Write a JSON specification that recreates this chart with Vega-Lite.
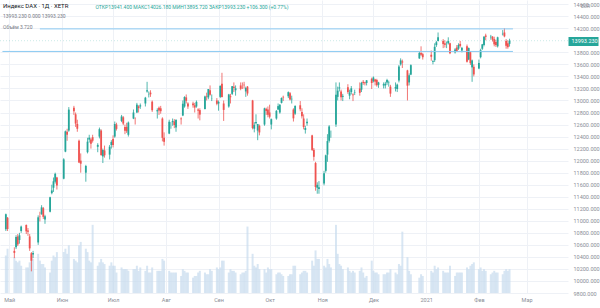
{
  "$schema": "https://vega.github.io/schema/vega-lite/v6.json",
  "width": 568,
  "height": 293,
  "autosize": {"type": "none"},
  "padding": {"left": 0, "top": 0, "right": 32, "bottom": 15},
  "background": "white",
  "config": {"view": {"stroke": null}, "font": "Roboto"},
  "title": {
    "text": "Индекс DAX · 1Д · XETR",
    "subtitle": ["13993.230    0.000    13993.230", "Объём 3.720"],
    "anchor": "start",
    "frame": "group",
    "orient": "top",
    "offset": -30,
    "dx": 3,
    "font": "Roboto",
    "fontSize": 6,
    "fontWeight": "normal",
    "color": "#131722",
    "subtitleFont": "Roboto",
    "subtitleFontSize": 5,
    "subtitleColor": "#787b86",
    "subtitlePadding": 5,
    "subtitleLineHeight": 11
  },
  "datasets": {
    "ohlc": [
      {"d":"2020-04-29","o":10860,"h":11120,"l":10830,"c":11107,"v":110},
      {"d":"2020-04-30","o":11050,"h":11063,"l":10830,"c":10862,"v":130},
      {"d":"2020-05-04","o":10500,"h":10560,"l":10380,"c":10467,"v":105},
      {"d":"2020-05-05","o":10560,"h":10760,"l":10530,"c":10730,"v":95},
      {"d":"2020-05-06","o":10740,"h":10780,"l":10580,"c":10607,"v":90},
      {"d":"2020-05-07","o":10680,"h":10800,"l":10620,"c":10759,"v":95},
      {"d":"2020-05-08","o":10830,"h":10920,"l":10800,"c":10904,"v":80},
      {"d":"2020-05-11","o":10930,"h":10940,"l":10780,"c":10825,"v":75},
      {"d":"2020-05-12","o":10840,"h":10880,"l":10750,"c":10820,"v":75},
      {"d":"2020-05-13","o":10740,"h":10780,"l":10500,"c":10542,"v":90},
      {"d":"2020-05-14","o":10460,"h":10480,"l":10160,"c":10337,"v":110},
      {"d":"2020-05-15","o":10440,"h":10500,"l":10380,"c":10465,"v":100},
      {"d":"2020-05-18","o":10640,"h":11090,"l":10600,"c":11058,"v":115},
      {"d":"2020-05-19","o":11080,"h":11150,"l":10990,"c":11075,"v":95},
      {"d":"2020-05-20","o":11110,"h":11260,"l":11100,"c":11223,"v":85},
      {"d":"2020-05-21","o":11210,"h":11230,"l":11030,"c":11066,"v":85},
      {"d":"2020-05-22","o":11020,"h":11100,"l":10950,"c":11074,"v":75},
      {"d":"2020-05-25","o":11150,"h":11400,"l":11140,"c":11391,"v":60},
      {"d":"2020-05-26","o":11460,"h":11600,"l":11440,"c":11504,"v":95},
      {"d":"2020-05-27","o":11550,"h":11720,"l":11480,"c":11657,"v":110},
      {"d":"2020-05-28","o":11650,"h":11800,"l":11620,"c":11781,"v":105},
      {"d":"2020-05-29","o":11720,"h":11730,"l":11520,"c":11587,"v":120},
      {"d":"2020-06-02","o":11700,"h":12040,"l":11690,"c":12021,"v":120},
      {"d":"2020-06-03","o":12150,"h":12500,"l":12140,"c":12487,"v":130},
      {"d":"2020-06-04","o":12480,"h":12530,"l":12330,"c":12431,"v":115},
      {"d":"2020-06-05","o":12500,"h":12890,"l":12480,"c":12848,"v":140},
      {"d":"2020-06-08","o":12880,"h":12910,"l":12760,"c":12820,"v":100},
      {"d":"2020-06-09","o":12770,"h":12800,"l":12560,"c":12617,"v":95},
      {"d":"2020-06-10","o":12610,"h":12680,"l":12480,"c":12530,"v":90},
      {"d":"2020-06-11","o":12330,"h":12350,"l":11960,"c":11970,"v":140},
      {"d":"2020-06-12","o":12000,"h":12120,"l":11800,"c":11949,"v":150},
      {"d":"2020-06-15","o":11800,"h":11930,"l":11650,"c":11911,"v":130},
      {"d":"2020-06-16","o":12140,"h":12380,"l":12120,"c":12315,"v":120},
      {"d":"2020-06-17","o":12350,"h":12430,"l":12300,"c":12382,"v":95},
      {"d":"2020-06-18","o":12350,"h":12380,"l":12200,"c":12281,"v":90},
      {"d":"2020-06-19","o":12390,"h":12430,"l":12300,"c":12331,"v":200},
      {"d":"2020-06-22","o":12230,"h":12290,"l":12140,"c":12262,"v":80},
      {"d":"2020-06-23","o":12400,"h":12550,"l":12370,"c":12523,"v":90},
      {"d":"2020-06-24","o":12500,"h":12520,"l":12080,"c":12093,"v":100},
      {"d":"2020-06-25","o":12070,"h":12200,"l":11960,"c":12177,"v":90},
      {"d":"2020-06-26","o":12170,"h":12250,"l":12050,"c":12089,"v":85},
      {"d":"2020-06-29","o":12100,"h":12260,"l":12020,"c":12232,"v":80},
      {"d":"2020-06-30","o":12260,"h":12340,"l":12200,"c":12311,"v":90},
      {"d":"2020-07-01","o":12360,"h":12420,"l":12220,"c":12260,"v":80},
      {"d":"2020-07-02","o":12400,"h":12650,"l":12380,"c":12608,"v":80},
      {"d":"2020-07-03","o":12600,"h":12630,"l":12500,"c":12528,"v":60},
      {"d":"2020-07-06","o":12660,"h":12760,"l":12640,"c":12734,"v":75},
      {"d":"2020-07-07","o":12720,"h":12740,"l":12590,"c":12616,"v":70},
      {"d":"2020-07-08","o":12560,"h":12600,"l":12440,"c":12495,"v":70},
      {"d":"2020-07-09","o":12560,"h":12630,"l":12460,"c":12489,"v":70},
      {"d":"2020-07-10","o":12430,"h":12650,"l":12400,"c":12633,"v":65},
      {"d":"2020-07-13","o":12700,"h":12850,"l":12690,"c":12800,"v":70},
      {"d":"2020-07-14","o":12700,"h":12720,"l":12600,"c":12697,"v":70},
      {"d":"2020-07-15","o":12800,"h":12960,"l":12790,"c":12931,"v":80},
      {"d":"2020-07-16","o":12900,"h":12920,"l":12800,"c":12874,"v":65},
      {"d":"2020-07-17","o":12900,"h":12950,"l":12860,"c":12920,"v":75},
      {"d":"2020-07-20","o":12950,"h":13060,"l":12900,"c":13046,"v":65},
      {"d":"2020-07-21","o":13150,"h":13310,"l":13130,"c":13171,"v":80},
      {"d":"2020-07-22","o":13100,"h":13150,"l":13050,"c":13104,"v":60},
      {"d":"2020-07-23","o":13130,"h":13170,"l":13060,"c":13103,"v":60},
      {"d":"2020-07-24","o":12980,"h":13000,"l":12810,"c":12838,"v":75},
      {"d":"2020-07-27","o":12820,"h":12870,"l":12700,"c":12839,"v":65},
      {"d":"2020-07-28","o":12880,"h":12900,"l":12760,"c":12835,"v":65},
      {"d":"2020-07-29","o":12870,"h":12910,"l":12780,"c":12822,"v":65},
      {"d":"2020-07-30","o":12700,"h":12720,"l":12320,"c":12379,"v":100},
      {"d":"2020-07-31","o":12380,"h":12470,"l":12250,"c":12313,"v":95},
      {"d":"2020-08-03","o":12450,"h":12680,"l":12440,"c":12647,"v":65},
      {"d":"2020-08-04","o":12600,"h":12640,"l":12530,"c":12600,"v":60},
      {"d":"2020-08-05","o":12640,"h":12700,"l":12580,"c":12660,"v":60},
      {"d":"2020-08-06","o":12650,"h":12690,"l":12540,"c":12592,"v":60},
      {"d":"2020-08-07","o":12550,"h":12690,"l":12480,"c":12674,"v":60},
      {"d":"2020-08-10","o":12700,"h":12720,"l":12600,"c":12688,"v":50},
      {"d":"2020-08-11","o":12750,"h":13000,"l":12740,"c":12946,"v":70},
      {"d":"2020-08-12","o":12900,"h":13070,"l":12880,"c":13058,"v":65},
      {"d":"2020-08-13","o":13050,"h":13100,"l":12950,"c":12994,"v":60},
      {"d":"2020-08-14","o":12950,"h":12970,"l":12860,"c":12901,"v":60},
      {"d":"2020-08-17","o":12950,"h":12980,"l":12880,"c":12920,"v":45},
      {"d":"2020-08-18","o":12920,"h":12960,"l":12800,"c":12882,"v":50},
      {"d":"2020-08-19","o":12900,"h":13000,"l":12880,"c":12977,"v":50},
      {"d":"2020-08-20","o":12850,"h":12870,"l":12700,"c":12830,"v":60},
      {"d":"2020-08-21","o":12840,"h":12870,"l":12670,"c":12765,"v":65},
      {"d":"2020-08-24","o":12860,"h":13080,"l":12850,"c":13067,"v":60},
      {"d":"2020-08-25","o":13070,"h":13130,"l":13000,"c":13062,"v":55},
      {"d":"2020-08-26","o":13050,"h":13190,"l":13020,"c":13190,"v":55},
      {"d":"2020-08-27","o":13170,"h":13250,"l":13080,"c":13096,"v":70},
      {"d":"2020-08-28","o":13030,"h":13100,"l":12990,"c":13033,"v":65},
      {"d":"2020-08-31","o":13000,"h":13040,"l":12920,"c":12945,"v":75},
      {"d":"2020-09-01","o":12950,"h":13000,"l":12830,"c":12974,"v":70},
      {"d":"2020-09-02","o":13060,"h":13250,"l":13040,"c":13243,"v":75},
      {"d":"2020-09-03","o":13280,"h":13460,"l":13050,"c":13057,"v":95},
      {"d":"2020-09-04","o":12950,"h":13000,"l":12660,"c":12843,"v":95},
      {"d":"2020-09-07","o":12900,"h":13110,"l":12880,"c":13100,"v":60},
      {"d":"2020-09-08","o":13070,"h":13110,"l":12950,"c":13054,"v":70},
      {"d":"2020-09-09","o":13110,"h":13240,"l":13090,"c":13237,"v":65},
      {"d":"2020-09-10","o":13230,"h":13300,"l":13140,"c":13209,"v":65},
      {"d":"2020-09-11","o":13170,"h":13250,"l":13080,"c":13202,"v":60},
      {"d":"2020-09-14","o":13250,"h":13300,"l":13170,"c":13193,"v":55},
      {"d":"2020-09-15","o":13220,"h":13300,"l":13190,"c":13218,"v":60},
      {"d":"2020-09-16","o":13260,"h":13310,"l":13200,"c":13255,"v":60},
      {"d":"2020-09-17","o":13150,"h":13230,"l":13060,"c":13208,"v":65},
      {"d":"2020-09-18","o":13230,"h":13240,"l":13080,"c":13116,"v":195},
      {"d":"2020-09-21","o":13000,"h":13010,"l":12520,"c":12542,"v":115},
      {"d":"2020-09-22","o":12530,"h":12640,"l":12470,"c":12594,"v":80},
      {"d":"2020-09-23","o":12620,"h":12770,"l":12600,"c":12642,"v":75},
      {"d":"2020-09-24","o":12500,"h":12610,"l":12340,"c":12607,"v":85},
      {"d":"2020-09-25","o":12580,"h":12600,"l":12420,"c":12469,"v":70},
      {"d":"2020-09-28","o":12600,"h":12880,"l":12580,"c":12870,"v":70},
      {"d":"2020-09-29","o":12860,"h":12880,"l":12760,"c":12826,"v":60},
      {"d":"2020-09-30","o":12850,"h":12900,"l":12720,"c":12761,"v":75},
      {"d":"2020-10-01","o":12800,"h":12930,"l":12700,"c":12730,"v":70},
      {"d":"2020-10-02","o":12600,"h":12700,"l":12520,"c":12689,"v":70},
      {"d":"2020-10-05","o":12700,"h":12840,"l":12680,"c":12828,"v":55},
      {"d":"2020-10-06","o":12850,"h":12950,"l":12840,"c":12906,"v":60},
      {"d":"2020-10-07","o":12800,"h":12940,"l":12780,"c":12928,"v":60},
      {"d":"2020-10-08","o":12960,"h":13050,"l":12950,"c":13042,"v":55},
      {"d":"2020-10-09","o":13060,"h":13080,"l":12990,"c":13051,"v":50},
      {"d":"2020-10-12","o":13070,"h":13150,"l":13040,"c":13138,"v":50},
      {"d":"2020-10-13","o":13120,"h":13140,"l":13000,"c":13018,"v":55},
      {"d":"2020-10-14","o":13020,"h":13080,"l":12950,"c":13028,"v":55},
      {"d":"2020-10-15","o":12850,"h":12870,"l":12650,"c":12703,"v":80},
      {"d":"2020-10-16","o":12780,"h":12920,"l":12760,"c":12909,"v":80},
      {"d":"2020-10-19","o":12920,"h":12990,"l":12820,"c":12854,"v":55},
      {"d":"2020-10-20","o":12810,"h":12870,"l":12700,"c":12736,"v":60},
      {"d":"2020-10-21","o":12700,"h":12770,"l":12520,"c":12558,"v":65},
      {"d":"2020-10-22","o":12510,"h":12580,"l":12450,"c":12543,"v":65},
      {"d":"2020-10-23","o":12620,"h":12700,"l":12580,"c":12646,"v":60},
      {"d":"2020-10-26","o":12420,"h":12430,"l":12160,"c":12178,"v":95},
      {"d":"2020-10-27","o":12180,"h":12210,"l":12000,"c":12064,"v":80},
      {"d":"2020-10-28","o":11960,"h":11980,"l":11500,"c":11561,"v":125},
      {"d":"2020-10-29","o":11550,"h":11640,"l":11450,"c":11598,"v":100},
      {"d":"2020-10-30","o":11530,"h":11660,"l":11450,"c":11556,"v":100},
      {"d":"2020-11-02","o":11620,"h":11830,"l":11590,"c":11789,"v":80},
      {"d":"2020-11-03","o":11830,"h":12100,"l":11800,"c":12089,"v":75},
      {"d":"2020-11-04","o":12100,"h":12440,"l":11980,"c":12325,"v":100},
      {"d":"2020-11-05","o":12330,"h":12590,"l":12300,"c":12568,"v":85},
      {"d":"2020-11-06","o":12480,"h":12500,"l":12380,"c":12480,"v":75},
      {"d":"2020-11-09","o":12600,"h":13300,"l":12560,"c":13096,"v":200},
      {"d":"2020-11-10","o":13060,"h":13230,"l":13000,"c":13163,"v":115},
      {"d":"2020-11-11","o":13200,"h":13300,"l":13150,"c":13217,"v":85},
      {"d":"2020-11-12","o":13150,"h":13180,"l":13000,"c":13052,"v":80},
      {"d":"2020-11-13","o":13060,"h":13110,"l":12990,"c":13077,"v":70},
      {"d":"2020-11-16","o":13220,"h":13270,"l":13110,"c":13139,"v":75},
      {"d":"2020-11-17","o":13080,"h":13180,"l":13020,"c":13133,"v":65},
      {"d":"2020-11-18","o":13140,"h":13240,"l":13100,"c":13202,"v":60},
      {"d":"2020-11-19","o":13100,"h":13120,"l":12990,"c":13086,"v":65},
      {"d":"2020-11-20","o":13130,"h":13180,"l":13090,"c":13137,"v":60},
      {"d":"2020-11-23","o":13200,"h":13300,"l":13080,"c":13127,"v":65},
      {"d":"2020-11-24","o":13180,"h":13310,"l":13140,"c":13292,"v":75},
      {"d":"2020-11-25","o":13310,"h":13340,"l":13260,"c":13290,"v":60},
      {"d":"2020-11-26","o":13300,"h":13310,"l":13250,"c":13286,"v":45},
      {"d":"2020-11-27","o":13290,"h":13340,"l":13250,"c":13335,"v":50},
      {"d":"2020-11-30","o":13360,"h":13380,"l":13190,"c":13291,"v":95},
      {"d":"2020-12-01","o":13320,"h":13400,"l":13300,"c":13382,"v":65},
      {"d":"2020-12-02","o":13350,"h":13360,"l":13250,"c":13313,"v":60},
      {"d":"2020-12-03","o":13340,"h":13360,"l":13230,"c":13253,"v":60},
      {"d":"2020-12-04","o":13260,"h":13310,"l":13210,"c":13299,"v":55},
      {"d":"2020-12-07","o":13250,"h":13300,"l":13200,"c":13271,"v":55},
      {"d":"2020-12-08","o":13250,"h":13310,"l":13200,"c":13278,"v":55},
      {"d":"2020-12-09","o":13300,"h":13360,"l":13260,"c":13340,"v":60},
      {"d":"2020-12-10","o":13290,"h":13330,"l":13230,"c":13296,"v":60},
      {"d":"2020-12-11","o":13230,"h":13260,"l":13060,"c":13114,"v":70},
      {"d":"2020-12-14","o":13200,"h":13300,"l":13150,"c":13223,"v":60},
      {"d":"2020-12-15","o":13190,"h":13280,"l":13140,"c":13263,"v":55},
      {"d":"2020-12-16","o":13330,"h":13590,"l":13300,"c":13566,"v":85},
      {"d":"2020-12-17","o":13600,"h":13700,"l":13580,"c":13667,"v":80},
      {"d":"2020-12-18","o":13650,"h":13680,"l":13540,"c":13630,"v":180},
      {"d":"2020-12-21","o":13500,"h":13510,"l":13000,"c":13246,"v":105},
      {"d":"2020-12-22","o":13300,"h":13450,"l":13250,"c":13418,"v":65},
      {"d":"2020-12-23","o":13430,"h":13600,"l":13420,"c":13587,"v":55},
      {"d":"2020-12-28","o":13700,"h":13810,"l":13690,"c":13790,"v":45},
      {"d":"2020-12-29","o":13790,"h":13900,"l":13740,"c":13761,"v":55},
      {"d":"2020-12-30","o":13770,"h":13790,"l":13680,"c":13719,"v":50},
      {"d":"2021-01-04","o":13760,"h":13830,"l":13660,"c":13727,"v":65},
      {"d":"2021-01-05","o":13640,"h":13670,"l":13600,"c":13651,"v":60},
      {"d":"2021-01-06","o":13670,"h":13950,"l":13640,"c":13892,"v":80},
      {"d":"2021-01-07","o":13920,"h":13990,"l":13890,"c":13968,"v":70},
      {"d":"2021-01-08","o":13990,"h":14130,"l":13980,"c":14050,"v":75},
      {"d":"2021-01-11","o":13990,"h":14020,"l":13870,"c":13937,"v":65},
      {"d":"2021-01-12","o":13950,"h":14000,"l":13880,"c":13925,"v":60},
      {"d":"2021-01-13","o":13940,"h":13980,"l":13870,"c":13940,"v":60},
      {"d":"2021-01-14","o":13950,"h":14050,"l":13930,"c":13989,"v":60},
      {"d":"2021-01-15","o":13950,"h":13960,"l":13770,"c":13787,"v":80},
      {"d":"2021-01-18","o":13800,"h":13870,"l":13780,"c":13849,"v":50},
      {"d":"2021-01-19","o":13880,"h":13920,"l":13810,"c":13815,"v":60},
      {"d":"2021-01-20","o":13860,"h":13950,"l":13840,"c":13922,"v":60},
      {"d":"2021-01-21","o":13940,"h":13990,"l":13880,"c":13907,"v":60},
      {"d":"2021-01-22","o":13830,"h":13890,"l":13800,"c":13874,"v":60},
      {"d":"2021-01-25","o":13900,"h":13930,"l":13630,"c":13643,"v":75},
      {"d":"2021-01-26","o":13680,"h":13880,"l":13670,"c":13871,"v":70},
      {"d":"2021-01-27","o":13800,"h":13820,"l":13590,"c":13621,"v":80},
      {"d":"2021-01-28","o":13550,"h":13680,"l":13310,"c":13666,"v":85},
      {"d":"2021-01-29","o":13560,"h":13600,"l":13400,"c":13433,"v":90},
      {"d":"2021-02-01","o":13530,"h":13680,"l":13520,"c":13622,"v":70},
      {"d":"2021-02-02","o":13720,"h":13860,"l":13700,"c":13835,"v":75},
      {"d":"2021-02-03","o":13860,"h":13940,"l":13840,"c":13933,"v":65},
      {"d":"2021-02-04","o":13920,"h":14070,"l":13900,"c":14060,"v":70},
      {"d":"2021-02-05","o":14080,"h":14110,"l":14000,"c":14057,"v":65},
      {"d":"2021-02-08","o":14050,"h":14090,"l":14010,"c":14060,"v":55},
      {"d":"2021-02-09","o":14060,"h":14070,"l":13980,"c":14011,"v":60},
      {"d":"2021-02-10","o":14020,"h":14060,"l":13900,"c":13933,"v":65},
      {"d":"2021-02-11","o":13970,"h":14010,"l":13890,"c":13921,"v":60},
      {"d":"2021-02-12","o":13900,"h":14060,"l":13880,"c":14050,"v":60},
      {"d":"2021-02-15","o":14100,"h":14170,"l":14080,"c":14109,"v":55},
      {"d":"2021-02-16","o":14130,"h":14200,"l":14050,"c":14065,"v":65},
      {"d":"2021-02-17","o":13990,"h":14020,"l":13860,"c":13909,"v":70},
      {"d":"2021-02-18","o":13950,"h":14000,"l":13860,"c":13887,"v":65},
      {"d":"2021-02-19","o":13941.4,"h":14026.18,"l":13895.72,"c":13993.23,"v":70}
    ],
    "levels": [
      {"p": 14190, "a": "2020-05-19", "b": "2021-02-21"},
      {"p": 13815, "a": "2020-04-27", "b": "2021-02-21"}
    ],
    "last": [{"p": 13993.23}]
  },
  "resolve": {
    "scale": {"y": "independent"},
    "axis": {"x": "independent", "y": "independent"}
  },
  "layer": [
    {
      "data": {"name": "ohlc"},
      "mark": {"type": "bar", "size": 2, "color": "#c8dbee", "opacity": 0.7},
      "encoding": {
        "x": {
          "field": "d", "type": "temporal",
          "scale": {"type": "utc", "domain": [{"year": 2020, "month": 4, "date": 28, "hours": 12, "utc": true}, {"year": 2021, "month": 3, "date": 22, "hours": 10, "utc": true}]},
          "axis": {
            "orient": "top", "labels": false, "ticks": false, "domain": false, "grid": false,
            "title": "ОТКР13941.400 МАКС14026.180 МИН13895.720 ЗАКР13993.230 +106.300 (+0.77%)",
            "titleX": 95, "titleY": 6, "titleAlign": "left", "titleBaseline": "middle",
            "titleFontSize": 5, "titleFont": "Roboto", "titleFontWeight": "normal", "titleColor": "#26a69a"
          }
        },
        "y": {"field": "v", "type": "quantitative", "scale": {"domain": [0, 860]}, "axis": null}
      }
    },
    {
      "data": {"name": "ohlc"},
      "mark": {"type": "rule", "strokeWidth": 0.8},
      "encoding": {
        "x": {
          "field": "d", "type": "temporal",
          "scale": {"type": "utc", "domain": [{"year": 2020, "month": 4, "date": 28, "hours": 12, "utc": true}, {"year": 2021, "month": 3, "date": 22, "hours": 10, "utc": true}]},
          "axis": {
            "orient": "bottom",
            "values": [
              {"year": 2020, "month": 5, "date": 1, "utc": true},
              {"year": 2020, "month": 6, "date": 1, "utc": true},
              {"year": 2020, "month": 7, "date": 1, "utc": true},
              {"year": 2020, "month": 8, "date": 1, "utc": true},
              {"year": 2020, "month": 9, "date": 1, "utc": true},
              {"year": 2020, "month": 10, "date": 1, "utc": true},
              {"year": 2020, "month": 11, "date": 1, "utc": true},
              {"year": 2020, "month": 12, "date": 1, "utc": true},
              {"year": 2021, "month": 1, "date": 1, "utc": true},
              {"year": 2021, "month": 2, "date": 1, "utc": true},
              {"year": 2021, "month": 3, "date": 1, "utc": true}
            ],
            "labelExpr": "utcmonth(datum.value) == 0 ? utcFormat(datum.value, '%Y') : ['Янв','Фев','Мар','Апр','Май','Июн','Июл','Авг','Сен','Окт','Ноя','Дек'][utcmonth(datum.value)]",
            "labelFontSize": 5.5, "labelFont": "Roboto", "labelColor": "#8a8d96", "labelPadding": 4,
            "labelFlush": false, "labelAlign": "center", "labelOverlap": false,
            "ticks": false, "domain": false, "grid": true, "gridColor": "#eef1f6", "title": null
          }
        },
        "y": {
          "field": "l", "type": "quantitative",
          "scale": {"domain": [9800, 14670], "nice": false, "zero": false},
          "axis": {
            "orient": "right",
            "values": [9800, 10000, 10200, 10400, 10600, 10800, 11000, 11200, 11400, 11600, 11800, 12000, 12200, 12400, 12600, 12800, 13000, 13200, 13400, 13600, 13800, 14200, 14400, 14600],
            "format": ".3f", "labelFontSize": 5.5, "labelFont": "Roboto", "labelColor": "#8a8d96", "labelPadding": 5,
            "labelOverlap": false, "labelFlush": false,
            "ticks": false, "domain": false, "grid": true, "gridColor": "#eef1f6",
            "title": "EUR", "titleAngle": 0, "titleX": 17, "titleY": 5, "titleAlign": "center", "titleBaseline": "middle",
            "titleFontSize": 5, "titleFont": "Roboto", "titleFontWeight": "normal", "titleColor": "#8a8d96"
          }
        },
        "y2": {"field": "h"},
        "color": {"condition": {"test": "datum.c >= datum.o", "value": "#26a69a"}, "value": "#ef5350"}
      }
    },
    {
      "data": {"name": "ohlc"},
      "mark": {"type": "bar", "size": 1.8},
      "encoding": {
        "x": {
          "field": "d", "type": "temporal",
          "scale": {"type": "utc", "domain": [{"year": 2020, "month": 4, "date": 28, "hours": 12, "utc": true}, {"year": 2021, "month": 3, "date": 22, "hours": 10, "utc": true}]},
          "axis": null
        },
        "y": {"field": "o", "type": "quantitative", "scale": {"domain": [9800, 14670], "nice": false, "zero": false}, "axis": null},
        "y2": {"field": "c"},
        "color": {"condition": {"test": "datum.c >= datum.o", "value": "#26a69a"}, "value": "#ef5350"}
      }
    },
    {
      "data": {"name": "levels"},
      "mark": {"type": "rule", "color": "#8ccaf2", "strokeWidth": 1, "clip": true},
      "encoding": {
        "x": {
          "field": "a", "type": "temporal",
          "scale": {"type": "utc", "domain": [{"year": 2020, "month": 4, "date": 28, "hours": 12, "utc": true}, {"year": 2021, "month": 3, "date": 22, "hours": 10, "utc": true}]},
          "axis": null
        },
        "x2": {"field": "b"},
        "y": {"field": "p", "type": "quantitative", "scale": {"domain": [9800, 14670], "nice": false, "zero": false}, "axis": null}
      }
    },
    {
      "data": {"name": "last"},
      "mark": {"type": "rule", "color": "#26a69a", "strokeWidth": 0.8, "strokeDash": [1, 2], "opacity": 0.3},
      "encoding": {
        "y": {
          "field": "p", "type": "quantitative",
          "scale": {"domain": [9800, 14670], "nice": false, "zero": false},
          "axis": {
            "orient": "right", "values": [13993.23], "format": ".3f",
            "ticks": true, "tickSize": 30, "tickWidth": 9, "tickColor": "#26a69a",
            "labelColor": "#ffffff", "labelPadding": -27, "labelFontSize": 5.5, "labelFont": "Roboto",
            "labelFlush": false, "labelOverlap": false,
            "domain": false, "grid": false, "title": null
          }
        }
      }
    }
  ]
}
